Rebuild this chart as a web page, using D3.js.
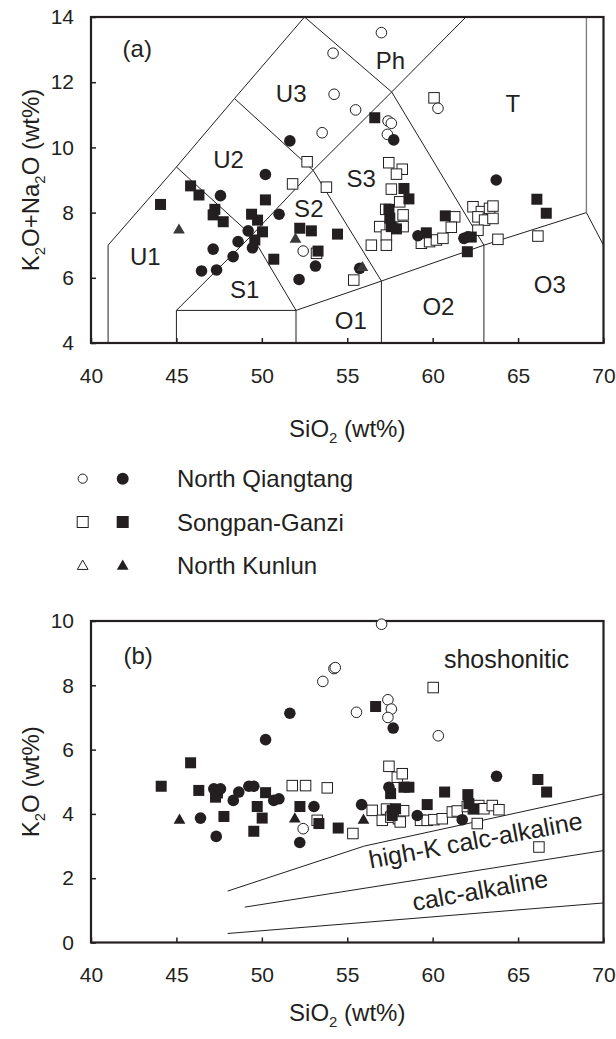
<!DOCTYPE html>
<html>
<head>
<meta charset="utf-8">
<script src="https://cdn.jsdelivr.net/npm/d3@7"></script>
<style>
  body { margin: 0; background: #fff; }
  text { font-family: Arial, "Liberation Sans", sans-serif; fill: #231f20; }
</style>
</head>
<body>
<svg id="chart" width="616" height="1039"></svg>
<script>
// ---- data: TAS diagram (a) ----
let tasNQOpen = [[57.0,13.52],[54.17,12.89],[54.23,11.63],[55.49,11.15],[53.53,10.45],[60.31,11.2],[57.39,10.81],[57.58,10.74],[57.35,10.4],[52.42,6.82]]
let tasNQFilled = [[51.64,10.2],[50.21,9.17],[57.72,10.23],[63.72,9.0],[47.58,8.52],[47.15,6.88],[46.47,6.21],[47.35,6.24],[48.32,6.65],[48.61,7.11],[49.2,7.44],[49.45,6.92],[51.01,7.95],[53.14,6.36],[52.18,5.95],[55.73,6.29],[59.14,7.29],[61.83,7.21],[62.07,7.26]]
let tasSGOpen = [[52.65,9.56],[51.8,8.88],[53.78,8.78],[60.08,11.52],[57.43,9.53],[58.22,9.33],[57.88,9.18],[57.58,8.72],[58.07,8.33],[57.25,8.1],[58.27,7.93],[56.9,7.57],[58.27,7.57],[57.29,7.31],[56.41,7.0],[57.29,7.0],[61.29,7.87],[61.09,7.55],[59.34,7.06],[59.82,7.11],[60.22,7.16],[60.6,7.21],[62.36,8.18],[62.85,8.03],[62.65,7.87],[63.04,7.77],[63.33,8.13],[63.53,8.2],[63.53,7.82],[62.65,7.46],[63.82,7.18],[66.16,7.28],[55.38,5.93],[53.2,6.75]]
let tasSGFilled = [[45.83,8.82],[44.07,8.25],[46.32,8.54],[47.25,8.1],[47.15,7.93],[47.74,7.72],[49.4,7.95],[49.75,7.77],[50.04,7.41],[49.59,7.16],[50.21,8.39],[50.7,6.57],[52.22,7.52],[52.9,7.44],[54.43,7.34],[53.29,6.82],[56.61,10.91],[58.32,8.74],[58.61,8.42],[57.44,8.1],[57.49,7.83],[57.58,7.57],[57.88,7.5],[59.63,7.38],[60.74,7.9],[62.03,6.8],[62.26,7.25],[66.1,8.41],[66.65,7.98]]
let tasNK = [[45.15,7.49],[51.97,7.21],[55.89,6.34]]

// TAS field boundaries (SiO2, Na2O+K2O)
let tasLines = [
  [[41,4],[41,7],[45,9.4],[48.4,11.5],[52.5,14]],
  [[45,4],[45,5],[49.4,7.3],[53,9.3],[57.6,11.7],[61.95,14]],
  [[45,9.4],[49.4,7.3],[52,5],[52,4]],
  [[48.4,11.5],[53,9.3],[57,5.9],[57,4]],
  [[52.5,14],[57.6,11.7],[63,7],[63,4]],
  [[45,5],[52,5],[57,5.9],[63,7],[69,8],[70,7]]
]
let tasGrayLine = [[69,8],[69,14]]
let tasFields = ['U1','S1','S2','U2','U3','Ph','T','S3','O1','O2','O3']
let tasFieldAt = [[42.28,6.39],[48.13,5.38],[51.89,7.87],[47.15,9.37],[50.82,11.4],[56.67,12.4],[64.27,11.1],[54.95,8.79],[54.27,4.42],[59.4,4.86],[65.92,5.53]]

// ---- data: K2O vs SiO2 (b) ----
let pkNQOpen = [[57.01,9.9],[54.22,8.52],[54.3,8.55],[53.57,8.12],[57.38,7.55],[57.58,7.26],[57.38,7.0],[55.54,7.16],[60.33,6.43],[52.42,3.54]]
let pkNQFilled = [[51.64,7.13],[50.22,6.31],[57.69,6.67],[63.74,5.17],[47.19,4.78],[47.58,4.78],[48.65,4.68],[49.24,4.86],[49.53,4.86],[51.0,4.47],[50.7,4.42],[48.33,4.42],[46.41,3.87],[47.33,3.3],[53.05,4.23],[52.22,3.11],[55.84,4.29],[57.44,4.83],[59.1,3.95],[61.73,3.82]]
let pkSGOpen = [[51.78,4.88],[52.56,4.88],[53.83,4.81],[60.03,7.93],[57.44,5.48],[57.93,5.14],[58.22,5.25],[53.24,3.8],[55.33,3.39],[56.46,4.11],[57.05,3.8],[57.3,4.15],[57.55,3.9],[58.0,3.85],[58.3,4.1],[58.1,3.75],[59.29,3.8],[59.68,3.8],[60.07,3.82],[60.56,3.85],[61.15,4.06],[61.44,4.09],[62.03,4.23],[62.38,4.16],[62.7,4.26],[63.0,4.16],[63.49,4.26],[63.88,4.13],[62.61,3.7],[66.22,2.97]]
let pkSGFilled = [[45.83,5.59],[44.11,4.86],[46.31,4.73],[50.22,4.66],[56.66,7.34],[66.16,5.07],[66.67,4.68],[58.32,4.83],[58.61,4.83],[60.7,4.68],[62.06,4.6],[47.29,4.52],[49.73,4.23],[50.02,3.87],[47.78,3.92],[49.53,3.46],[52.23,4.23],[53.34,3.7],[54.47,3.56],[59.68,4.29],[62.12,4.32],[62.41,4.16],[57.54,4.63],[57.63,4.11],[57.63,3.95],[57.83,4.16],[47.4,4.65]]
let pkNK = [[45.18,3.83],[51.93,3.87],[55.95,3.83]]

let pkLines = [
  [[48,1.6],[56,3.0],[70,4.62]],
  [[49,1.1],[70,2.86]],
  [[48,0.28],[70,1.23]]
]

let xTicks = [40,45,50,55,60,65,70]
let legendNames = ['North Qiangtang','Songpan-Ganzi','North Kunlun']
let legendShapes = ['circle','square','triangle']

let ink = '#231f20'
let svg = d3.select('#chart')

function richText(t, parts, size) {
  let shifted = false
  parts.forEach(p => {
    let s = t.append('tspan')
    if (typeof p === 'string') {
      s.text(p)
      if (shifted) { s.attr('dy', -size * 0.25); shifted = false }
    } else {
      s.text(p.sub).attr('font-size', size * 0.62).attr('dy', size * 0.25)
      shifted = true
    }
  })
}

function marker(g, data, shape, filled, x, y, fillColor) {
  let sel = g.append('g')
  let fill = filled ? (fillColor || ink) : '#fff'
  let stroke = filled ? 'none' : ink
  data.forEach(d => {
    let cx = x(d[0]), cy = y(d[1])
    if (shape === 'circle') {
      sel.append('circle').attr('cx', cx).attr('cy', cy).attr('r', filled ? 5.8 : 5.3)
        .attr('fill', fill).attr('stroke', stroke).attr('stroke-width', 1)
    } else if (shape === 'square') {
      let s = filled ? 11 : 10.5
      sel.append('rect').attr('x', cx - s / 2).attr('y', cy - s / 2).attr('width', s).attr('height', s)
        .attr('fill', fill).attr('stroke', stroke).attr('stroke-width', 1)
    } else {
      sel.append('path').attr('d', d3.symbol(d3.symbolTriangle, 60)())
        .attr('transform', `translate(${cx},${cy + 1})`)
        .attr('fill', fill).attr('stroke', stroke).attr('stroke-width', 1)
    }
  })
}

function panel(cfg) {
  let x = d3.scaleLinear().domain([40, 70]).range([91, 603.5])
  let y = d3.scaleLinear().domain(cfg.yDomain).range(cfg.yRange)
  let g = svg.append('g')
  let line = d3.line().x(d => x(d[0])).y(d => y(d[1]))

  g.selectAll('.bound')
    .data(cfg.lines)
    .enter()
    .append('path')
    .attr('class', 'bound')
    .attr('d', line)
    .attr('fill', 'none')
    .attr('stroke', ink)
    .attr('stroke-width', 1)

  if (cfg.grayLine) {
    g.append('path').attr('d', line(cfg.grayLine))
      .attr('fill', 'none').attr('stroke', '#808080').attr('stroke-width', 1.4)
  }

  // x axis
  g.append('g')
    .attr('transform', `translate(0,${cfg.yRange[0]})`)
    .call(d3.axisBottom(x).tickValues(xTicks).tickSizeInner(-5).tickSizeOuter(0).tickPadding(25))
    .call(a => a.select('.domain').remove())
    .call(a => a.selectAll('line').attr('stroke', ink).attr('stroke-width', 1.5))
    .call(a => a.selectAll('text').attr('font-size', 21).attr('fill', ink).attr('font-family', 'Arial, "Liberation Sans", sans-serif'))

  // y axis
  g.append('g')
    .attr('transform', 'translate(91,0)')
    .call(d3.axisLeft(y).tickValues(cfg.yTicks).tickSizeInner(-5).tickSizeOuter(0).tickPadding(17))
    .call(a => a.select('.domain').remove())
    .call(a => a.selectAll('line').attr('stroke', ink).attr('stroke-width', 1.5))
    .call(a => a.selectAll('text').attr('font-size', 21).attr('fill', ink).attr('font-family', 'Arial, "Liberation Sans", sans-serif'))

  // frame
  g.append('rect')
    .attr('x', 91).attr('y', cfg.yRange[1])
    .attr('width', 603.5 - 91).attr('height', cfg.yRange[0] - cfg.yRange[1])
    .attr('fill', 'none').attr('stroke', ink).attr('stroke-width', 2.2)

  // field labels
  cfg.labels.forEach(l => {
    g.append('text')
      .attr('font-size', l.size || 24)
      .attr('transform', `translate(${x(l.at[0])},${y(l.at[1])}) rotate(${l.rotate || 0})`)
      .text(l.text)
  })

  // points
  cfg.series.forEach(s => marker(g, s.data, s.shape, s.filled, x, y, s.color))

  // axis titles
  let xt = g.append('text')
    .attr('x', x(55)).attr('y', cfg.xTitleY)
    .attr('text-anchor', 'middle').attr('font-size', 24)
  richText(xt, ['SiO', { sub: '2' }, ' (wt%)'], 24)

  let yt = g.append('text')
    .attr('transform', `translate(39,${(cfg.yRange[0] + cfg.yRange[1]) / 2}) rotate(-90)`)
    .attr('text-anchor', 'middle').attr('font-size', 24)
  richText(yt, cfg.yTitle, 24)
}

panel({
  yDomain: [4, 14],
  yRange: [343, 17],
  yTicks: [4, 6, 8, 10, 12, 14],
  lines: tasLines,
  grayLine: tasGrayLine,
  labels: tasFields.map((f, i) => ({ text: f, at: tasFieldAt[i] }))
    .concat([{ text: '(a)', at: [41.85, 12.77] }]),
  series: [
    { data: tasSGOpen, shape: 'square', filled: false },
    { data: tasNQOpen, shape: 'circle', filled: false },
    { data: tasSGFilled, shape: 'square', filled: true },
    { data: tasNQFilled, shape: 'circle', filled: true },
    { data: tasNK, shape: 'triangle', filled: true, color: '#3a3a3a' }
  ],
  xTitleY: 437,
  yTitle: ['K', { sub: '2' }, 'O+Na', { sub: '2' }, 'O (wt%)']
})

panel({
  yDomain: [0, 10],
  yRange: [942.5, 621],
  yTicks: [0, 2, 4, 6, 8, 10],
  lines: pkLines,
  labels: [
    { text: '(b)', at: [41.9, 8.67] },
    { text: 'shoshonitic', at: [60.66, 8.55], size: 25 },
    { text: 'high-K calc-alkaline', at: [56.36, 2.3], size: 25, rotate: -10.5 },
    { text: 'calc-alkaline', at: [58.9, 0.98], size: 25, rotate: -10.2 }
  ],
  series: [
    { data: pkSGOpen, shape: 'square', filled: false },
    { data: pkNQOpen, shape: 'circle', filled: false },
    { data: pkSGFilled, shape: 'square', filled: true },
    { data: pkNQFilled, shape: 'circle', filled: true },
    { data: pkNK, shape: 'triangle', filled: true }
  ],
  xTitleY: 1021,
  yTitle: ['K', { sub: '2' }, 'O (wt%)']
})

// legend
let legendY = d3.scaleBand().domain(legendNames).range([457, 587])
let legend = svg.append('g')
legendNames.forEach((name, i) => {
  let cy = legendY(name) + legendY.bandwidth() / 2
  let shape = legendShapes[i]
  if (shape === 'circle') {
    legend.append('circle').attr('cx', 82.7).attr('cy', cy).attr('r', 4.6)
      .attr('fill', '#fff').attr('stroke', ink).attr('stroke-width', 1)
    legend.append('circle').attr('cx', 122.7).attr('cy', cy).attr('r', 6)
      .attr('fill', ink)
  } else if (shape === 'square') {
    legend.append('rect').attr('x', 82.7 - 5.5).attr('y', cy - 5.5).attr('width', 11).attr('height', 11)
      .attr('fill', '#fff').attr('stroke', ink).attr('stroke-width', 1)
    legend.append('rect').attr('x', 122.7 - 6).attr('y', cy - 6).attr('width', 12).attr('height', 12)
      .attr('fill', ink)
  } else {
    legend.append('path').attr('d', d3.symbol(d3.symbolTriangle, 50)())
      .attr('transform', `translate(82.7,${cy + 1})`)
      .attr('fill', '#fff').attr('stroke', ink).attr('stroke-width', 1)
    legend.append('path').attr('d', d3.symbol(d3.symbolTriangle, 60)())
      .attr('transform', `translate(122.7,${cy + 1})`)
      .attr('fill', ink)
  }
  legend.append('text')
    .attr('x', 177).attr('y', cy).attr('dy', '0.36em')
    .attr('font-size', 24)
    .text(name)
})
</script>
</body>
</html>
